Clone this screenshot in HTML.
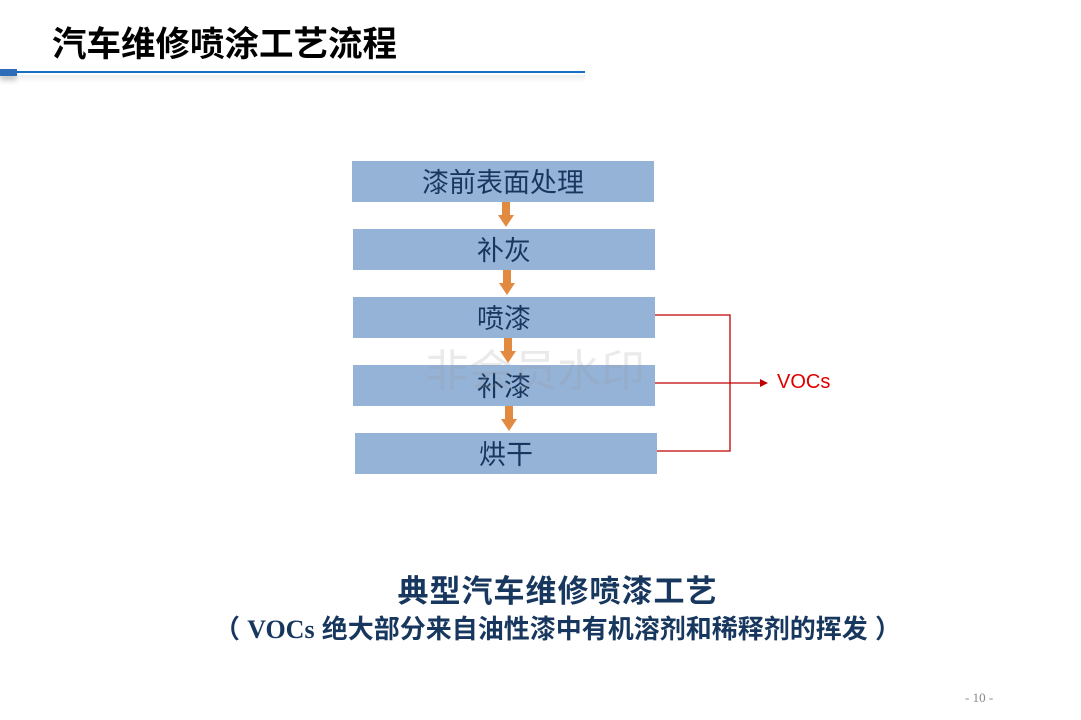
<!DOCTYPE html>
<html><head><meta charset="utf-8"><style>
body{margin:0;width:1081px;height:720px;background:#fff;position:relative;overflow:hidden;font-family:"Liberation Sans","Noto Sans CJK SC",sans-serif}
.a{position:absolute}
.box{position:absolute;background:#95b3d7;color:#17375e;font-size:27px;text-align:center;line-height:45px;width:302px;height:41px}
.sh{position:absolute;background:#e38a41;width:8px}
.hd{position:absolute;width:0;height:0;border-left:8px solid transparent;border-right:8px solid transparent;border-top:12px solid #e38a41}
</style></head><body>
<div class="a" style="left:52px;top:22px;font-size:34.5px;font-weight:bold;color:#000;line-height:46px">汽车维修喷涂工艺流程</div>
<div class="a" style="left:17px;top:71px;width:568px;height:2px;background:#1a6fc0"></div>
<div class="a" style="left:0;top:69px;width:17px;height:7px;background:#2e6db8;box-shadow:0 4px 6px rgba(0,0,0,.25)"></div>
<div class="a" style="left:20px;top:75px;width:565px;height:8px;background:linear-gradient(#eee,#fff)"></div>

<div class="box" style="left:352px;top:161px">漆前表面处理</div>
<div class="box" style="left:353px;top:229px">补灰</div>
<div class="box" style="left:353px;top:297px">喷漆</div>
<div class="box" style="left:353px;top:365px">补漆</div>
<div class="box" style="left:355px;top:433px">烘干</div>

<div class="sh" style="left:502px;top:202px;height:13px"></div><div class="hd" style="left:498px;top:215px"></div>
<div class="sh" style="left:503px;top:270px;height:13px"></div><div class="hd" style="left:499px;top:283px"></div>
<div class="sh" style="left:504px;top:338px;height:13px"></div><div class="hd" style="left:500px;top:351px"></div>
<div class="sh" style="left:505px;top:406px;height:13px"></div><div class="hd" style="left:501px;top:419px"></div>

<div class="a" style="left:425px;top:335px;font-size:44px;color:rgba(150,150,150,.2)">非会员水印</div>

<svg class="a" style="left:0;top:0" width="1081" height="720">
<g stroke="#c00000" stroke-width="1.3" fill="none">
<path d="M655 315H730V451H657M655 383H761"/>
</g>
<path d="M760 379L768 383L760 387Z" fill="#c00000"/>
</svg>
<div class="a" style="left:777px;top:371px;font-size:20px;color:#e00000">VOCs</div>

<div class="a" style="left:0;width:1115px;top:566px;text-align:center;font-size:31px;letter-spacing:1px;font-weight:bold;color:#17375e">典型汽车维修喷漆工艺</div>
<div class="a" style="left:0;width:1115px;top:609px;text-align:center;font-size:26px;font-weight:bold;color:#17375e">（ <span style="font-family:'Liberation Serif',serif">VOCs</span> 绝大部分来自油性漆中有机溶剂和稀释剂的挥发 ）</div>
<div class="a" style="left:965px;top:690px;font-size:13px;color:#888;font-family:'Liberation Serif',serif">- 10 -</div>
</body></html>
